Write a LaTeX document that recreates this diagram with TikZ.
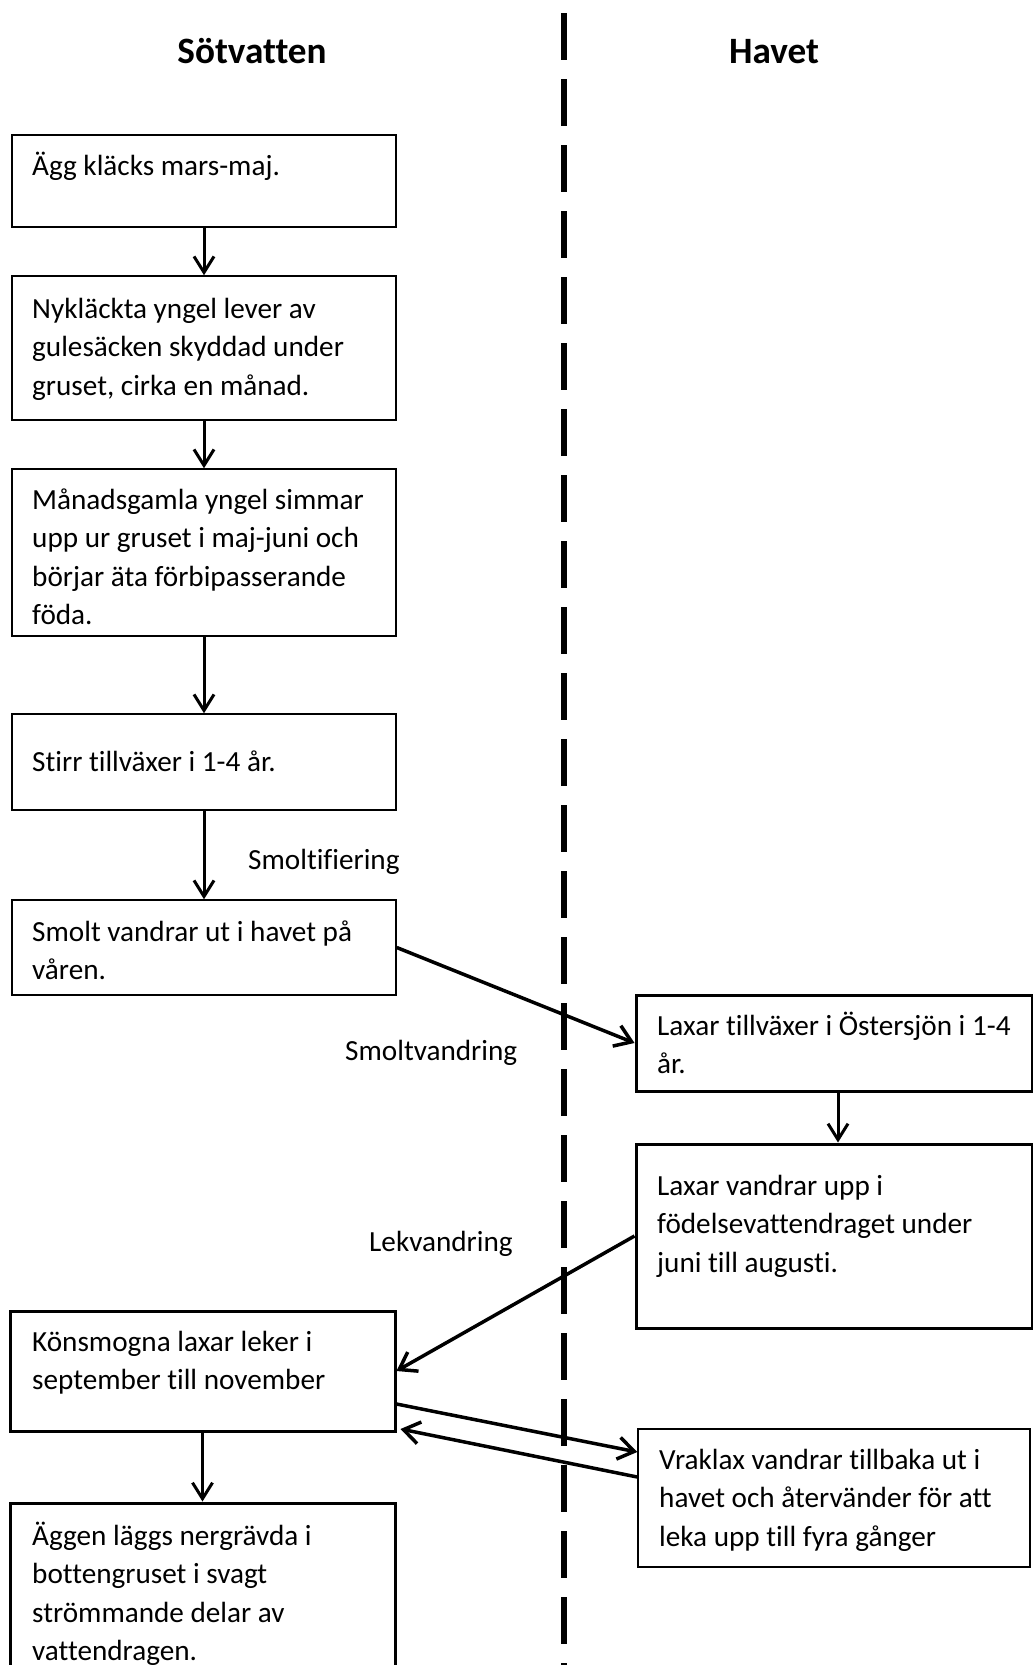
\documentclass[tikz,border=0pt]{standalone}
\usepackage{fontspec}
\setmainfont{Carlito}[Ligatures=NoCommon]
\usetikzlibrary{arrows.meta,calc}
\newcommand\boxtext[1]{\parbox[t]{440pt}{\fontsize{29.2pt}{38.5pt}\selectfont #1}}
\tikzset{
  box/.style={draw, line width=1.5pt, inner sep=0pt, rectangle},
  thickbox/.style={box, line width=3pt},
  txt/.style={anchor=base west, inner sep=0pt, font=\fontsize{29.2pt}{38.5pt}\selectfont},
  title/.style={anchor=base, inner sep=0pt, font=\fontsize{37.2pt}{40pt}\selectfont\bfseries},
  varrow/.style={line width=3pt, -{Straight Barb[length=16pt,width=20pt]}},
  darrow/.style={line width=3.5pt, -{Straight Barb[length=16pt,width=22pt]}},
}
\begin{document}
\begin{tikzpicture}[x=1pt,y=-1pt]
\useasboundingbox (0,0) rectangle (1033,1665);
\clip (0,0) rectangle (1033,1665);

% divider
\draw[line width=5.5pt, dash pattern=on 47pt off 19pt] (564,13) -- (564,1680);

% titles
\node[title] (tsot) at (252,63) {Sötvatten};
\node[title] (thav) at (774,63) {Havet};

% boxes
\node[box, minimum width=384pt, minimum height=92pt]  (b1) at (204,181) {};
\node[box, minimum width=384pt, minimum height=144pt] (b2) at (204,348) {};
\node[box, minimum width=384pt, minimum height=167pt] (b3) at (204,552.5) {};
\node[box, minimum width=384pt, minimum height=96pt]  (b4) at (204,762) {};
\node[box, minimum width=384pt, minimum height=95pt]  (b5) at (204,947.5) {};
\node[thickbox, minimum width=396pt, minimum height=96pt]  (b6) at (834,1043) {};
\node[thickbox, minimum width=396pt, minimum height=184pt] (b7) at (834,1236) {};
\node[thickbox, minimum width=385pt, minimum height=120pt] (b8) at (202.5,1371) {};
\node[thickbox, minimum width=385pt, minimum height=197pt] (b9) at (202.5,1601.5) {};
\node[box, minimum width=392pt, minimum height=138pt] (b10) at (834,1498) {};

% texts
\node[txt] (t1) at (32,175) {\boxtext{Ägg kläcks mars-maj.}};
\node[txt] (t2) at (32,318) {\boxtext{Nykläckta yngel lever av\\gulesäcken skyddad under\\gruset, cirka en månad.}};
\node[txt] (t3) at (32,509) {\boxtext{Månadsgamla yngel simmar\\upp ur gruset i maj-juni och\\börjar äta förbipasserande\\föda.}};
\node[txt] (t4) at (32,771) {\boxtext{Stirr tillväxer i 1-4 år.}};
\node[txt] (t5) at (32,941) {\boxtext{Smolt vandrar ut i havet på\\våren.}};
\node[txt] (t6) at (657,1035) {\boxtext{Laxar tillväxer i Östersjön i 1-4\\år.}};
\node[txt] (t7) at (657,1195) {\boxtext{Laxar vandrar upp i\\födelsevattendraget under\\juni till augusti.}};
\node[txt] (t8) at (32,1351) {\boxtext{Könsmogna laxar leker i\\september till november}};
\node[txt] (t9) at (32,1545) {\boxtext{Äggen läggs nergrävda i\\bottengruset i svagt\\strömmande delar av\\vattendragen.}};
\node[txt] (t10) at (659,1469) {\boxtext{Vraklax vandrar tillbaka ut i\\havet och återvänder för att\\leka upp till fyra gånger}};

% labels
\node[txt] (lsmf) at (248,869) {Smoltifiering};
\node[txt] (lsmv) at (345,1060) {Smoltvandring};
\node[txt] (llek) at (369,1251) {Lekvandring};

% vertical arrows
\draw[varrow] (b1.south) -- (b2.north);
\draw[varrow] (b2.south) -- (b3.north);
\draw[varrow] (b3.south) -- (b4.north);
\draw[varrow] (b4.south) -- (b5.north);
\draw[varrow] ([xshift=4pt]b6.south) -- ([xshift=4pt]b7.north);
\draw[varrow] (b8.south) -- (b9.north);

% diagonal arrows
\draw[darrow] (b5.east) -- (b6.west);
\draw[darrow] (b7.west) -- (b8.east);
\draw[darrow] ($(b8.east)+(0,33)$) -- ($(b10.west)+(0,-46)$);
\draw[darrow] ($(b10.west)+(0,-21)$) -- ($(b8.east)+(4,58)$);
\end{tikzpicture}
\end{document}
